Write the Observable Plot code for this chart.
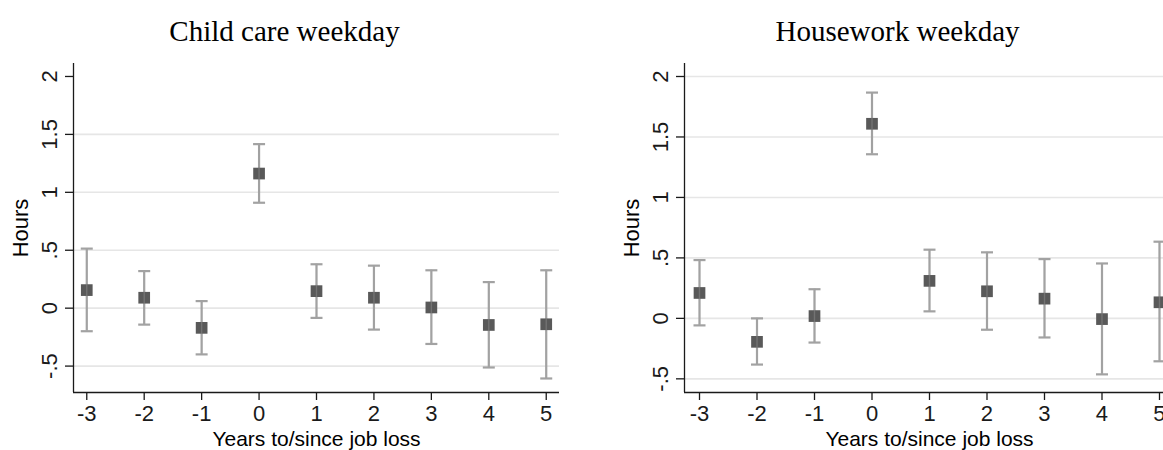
<!DOCTYPE html>
<html>
<head>
<meta charset="utf-8">
<script src="https://cdn.jsdelivr.net/npm/d3@7"></script>
<script src="https://cdn.jsdelivr.net/npm/@observablehq/plot@0.6"></script>
<style>
  html, body { margin: 0; padding: 0; background: #fff; }
  #wrap { position: relative; width: 1163px; height: 450px; overflow: hidden; background: #fff; }
  #wrap svg { position: absolute; top: 0; max-width: none !important; }
</style>
</head>
<body>
<div id="wrap"></div>
<script>
// ---- Data ----
const years = [-3, -2, -1, 0, 1, 2, 3, 4, 5];

const childTitle = "Child care weekday";
const childEst = [0.156, 0.09, -0.17, 1.162, 0.147, 0.09, 0.006, -0.145, -0.139];
const childLo  = [-0.199, -0.142, -0.399, 0.910, -0.084, -0.185, -0.309, -0.512, -0.607];
const childHi  = [0.514, 0.32, 0.061, 1.416, 0.379, 0.367, 0.327, 0.225, 0.327];

const houseTitle = "Housework weekday";
const houseEst = [0.21, -0.194, 0.019, 1.609, 0.31, 0.224, 0.163, -0.006, 0.133];
const houseLo  = [-0.058, -0.382, -0.2, 1.357, 0.058, -0.094, -0.158, -0.463, -0.355];
const houseHi  = [0.482, 0.0, 0.241, 1.867, 0.568, 0.546, 0.49, 0.454, 0.634];

const yTicks = [-0.5, 0, 0.5, 1, 1.5, 2];
const yTickText = ["-.5", "0", ".5", "1", "1.5", "2"];
const xTicks = [-3, -2, -1, 0, 1, 2, 3, 4, 5];
const xTickText = ["-3", "-2", "-1", "0", "1", "2", "3", "4", "5"];
const childGrid = [-0.5, 0, 0.5, 1, 1.5];
const houseGrid = [-0.5, 0, 0.5, 1, 1.5, 2];
const xTitle = "Years to/since job loss";
const yTitle = "Hours";

// ---- Styles ----
const sans = "'Liberation Sans', Arial, Helvetica, sans-serif";
const serif = "'Liberation Serif', 'Times New Roman', serif";
const axisColor = "#1a1a1a";
const gridColor = "#e6e6e6";
const barColor = "#a2a2a2";
const markColor = "#595959";

const capSymbol = {
  draw(context, size) {
    const w = Math.sqrt(size / Math.PI);
    context.moveTo(-w, 0);
    context.lineTo(w, 0);
  }
};

function panel({title, est, lo, hi, grid, xDomain, yDomain, width, marginLeft, marginRight, left}) {
  const data = years.map((x, i) => ({x, est: est[i], lo: lo[i], hi: hi[i]}));
  const svg = Plot.plot({
    width,
    height: 450,
    marginLeft,
    marginRight,
    marginTop: 63,
    marginBottom: 58,
    style: {fontFamily: sans, fontSize: "22px", background: "transparent", color: axisColor, overflow: "visible"},
    x: {domain: xDomain},
    y: {domain: yDomain},
    marks: [
      Plot.ruleY(grid, {stroke: gridColor, strokeWidth: 1.6}),
      Plot.ruleX([xDomain[0]], {stroke: axisColor, strokeWidth: 1.3}),
      Plot.ruleY([yDomain[0]], {stroke: axisColor, strokeWidth: 1.3}),
      Plot.axisY({
        ticks: yTicks, tickFormat: d => yTickText[yTicks.indexOf(d)],
        tickSize: 8, tickPadding: 9, tickRotate: -90, strokeWidth: 1.3, label: null
      }),
      Plot.axisX({
        ticks: xTicks, tickFormat: d => xTickText[xTicks.indexOf(d)],
        tickSize: 8, tickPadding: 5, strokeWidth: 1.3, label: null
      }),
      Plot.ruleX(data, {x: "x", y1: "lo", y2: "hi", stroke: barColor, strokeWidth: 2.2}),
      Plot.dot(data, {x: "x", y: "lo", symbol: capSymbol, r: 6, stroke: barColor, strokeWidth: 2.2}),
      Plot.dot(data, {x: "x", y: "hi", symbol: capSymbol, r: 6, stroke: barColor, strokeWidth: 2.2}),
      Plot.dot(data, {x: "x", y: "est", symbol: "square", r: 6.6, fill: markColor, stroke: null}),
      Plot.ruleX(data, {x: "x", y1: "lo", y2: "hi", stroke: barColor, strokeWidth: 1.4, strokeOpacity: 0.35}),
      Plot.text([title], {frameAnchor: "top", dx: -32, dy: -23, lineAnchor: "bottom", textAnchor: "middle", fontFamily: serif, fontSize: 29, fill: "#000"}),
      Plot.text([xTitle], {frameAnchor: "bottom", dy: 53, lineAnchor: "bottom", textAnchor: "middle", fontSize: 21, fill: "#000"}),
      Plot.text([yTitle], {frameAnchor: "left", dx: -53, rotate: -90, lineAnchor: "middle", textAnchor: "middle", fontSize: 22, fill: "#000"})
    ]
  });
  svg.style.left = left + "px";
  document.getElementById("wrap").appendChild(svg);
}

panel({
  title: childTitle, est: childEst, lo: childLo, hi: childHi, grid: childGrid,
  xDomain: [-3.231, 5.231], yDomain: [-0.728, 2.112],
  width: 580, marginLeft: 73, marginRight: 21, left: 0
});

panel({
  title: houseTitle, est: houseEst, lo: houseLo, hi: houseHi, grid: houseGrid,
  xDomain: [-3.261, 5.261], yDomain: [-0.613, 2.1075],
  width: 600, marginLeft: 104, marginRight: 6, left: 580
});
</script>
</body>
</html>
